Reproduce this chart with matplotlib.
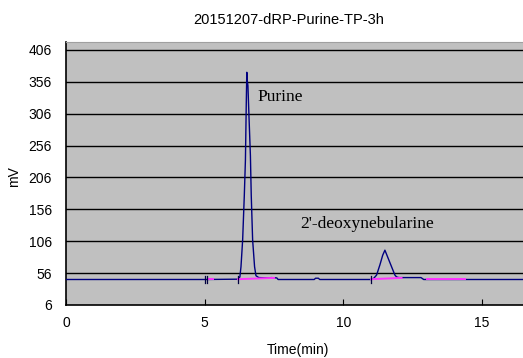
import matplotlib
matplotlib.use("Agg")
import matplotlib.pyplot as plt

title = "20151207-dRP-Purine-TP-3h"
yticks = [6, 56, 106, 156, 206, 256, 306, 356, 406]
xticks = [0, 5, 10, 15]

time = [0.0, 5.0, 6.20, 6.27, 6.31, 6.37, 6.43, 6.47, 6.50, 6.52, 6.53, 6.56, 6.60,
        6.65, 6.68, 6.73, 6.80, 6.85, 6.95, 7.30, 7.40, 7.60, 7.65, 8.95, 9.00, 9.10,
        9.15, 11.00, 11.10, 11.20, 11.32, 11.42, 11.50, 11.62, 11.74, 11.86, 11.92,
        12.00, 12.80, 12.90, 16.7]
signal = [46, 46, 46.5, 50, 66, 108, 178, 233, 320, 371, 360, 350, 300,
          240, 178, 108, 66, 52, 49, 48.5, 49, 48.5, 46, 46, 48, 48,
          46, 46, 48, 53, 69, 84, 92, 79, 66, 53, 50,
          49, 49, 46, 46]

baselines = [((5.12, 5.30), (46, 46)),
             ((6.20, 7.50), (46.5, 48.5)),
             ((11.00, 12.10), (46.5, 48.5)),
             ((13.00, 14.40), (46, 46))]
marker_times = [5.0, 5.08, 6.2, 11.0]
marker_level = 46

labels = [("Purine", 6.89, 332), ("2'-deoxynebularine", 8.44, 133)]

fig = plt.figure(figsize=(5.23, 3.58), dpi=100)
ax = fig.add_axes([66/523, 53/358, 462/523, 263/358])
ax.set_facecolor("#c0c0c0")
ax.set_xlim(0, 16.66)
ax.set_ylim(6, 418.5)

for y in yticks[1:]:
    ax.axhline(y, color="black", lw=1.0, zorder=1)

ax.plot(time, signal, color="#000080", lw=1.0, zorder=3)
for (xs, ys) in baselines:
    ax.plot(xs, ys, color="#ff33ff", lw=1.4, zorder=4)
for t in marker_times:
    ax.plot([t, t], [marker_level - 6, marker_level + 6], color="#000040", lw=0.9, zorder=5)

for txt, x, y in labels:
    ax.text(x, y, txt, fontsize=12.5, family="Liberation Serif", va="center", ha="left", zorder=6)

ax.set_yticks(yticks)
ax.set_xticks(xticks)
ax.tick_params(axis="y", length=0, labelsize=10, pad=10)
ax.tick_params(axis="x", direction="in", length=4, labelsize=10, pad=8)
for lab in ax.get_xticklabels() + ax.get_yticklabels():
    lab.set_family("Liberation Sans")

for s in ["left", "bottom"]:
    ax.spines[s].set_color("black")
    ax.spines[s].set_linewidth(1.2)
for s in ["top", "right"]:
    ax.spines[s].set_color("#a0a0a0")

fig.text(289/523, 1 - 20/358, title, ha="center", va="center", fontsize=10.5, family="Liberation Sans")
fig.text(298/523, 1 - 350/358, "Time(min)", ha="center", va="center", fontsize=10, family="Liberation Sans")
fig.text(14/523, 1 - 177/358, "mV", ha="center", va="center", rotation=90, fontsize=10, family="Liberation Sans")

fig.savefig("out.png", dpi=100)
